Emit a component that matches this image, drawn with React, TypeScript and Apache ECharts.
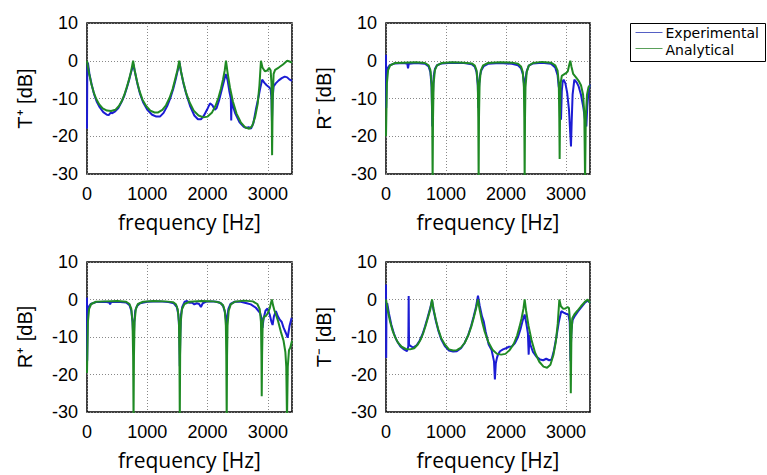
import React, { useEffect, useRef } from "react";
import * as echarts from "echarts";

// ---- data: [frequency Hz, level dB] ----
const tPlusExp = [
  [0, -18], [5, -2], [15, -0.5], [40, -3.5], [80, -6.5], [120, -9], [160, -10.8], [210, -12.3], [270, -13.6], [330, -14.3], [360, -14.4], [390, -13.8], [420, -13.9], [460, -13.5], [520, -12.5], [570, -11], [620, -9.2], [660, -7.2], [700, -5], [740, -2.5], [770, -1],
  [795, -3], [835, -6], [880, -8.8], [930, -11], [1000, -13], [1080, -14.3], [1150, -14.8], [1210, -14.8], [1270, -13.8], [1330, -12], [1380, -10], [1430, -7.5], [1470, -5], [1505, -2.5], [1535, -0.5],
  [1560, -3], [1600, -6], [1650, -9], [1710, -12], [1780, -14.5], [1840, -15.5], [1890, -15.5], [1940, -14.5], [1990, -13], [2040, -11.3], [2080, -11.8], [2120, -13], [2150, -12.5], [2190, -10.5], [2230, -8], [2270, -5.5], [2300, -3.5],
  [2330, -5], [2360, -8], [2385, -10], [2392, -15.8], [2398, -10], [2410, -11.5], [2460, -14], [2530, -16.3], [2600, -17.5], [2640, -17.8], [2680, -17.6], [2720, -18], [2760, -16.5], [2800, -13], [2840, -10], [2870, -7.5], [2905, -5],
  [2940, -5.8], [2980, -6.5], [3020, -7], [3045, -7.5], [3060, -10], [3068, -16], [3078, -10], [3095, -6.8], [3130, -6], [3180, -5.2], [3230, -4.6], [3280, -4.2], [3320, -4.4], [3360, -5], [3400, -5.3],
];
const tPlusAna = [
  [0, 0], [30, -3], [70, -6], [110, -8.3], [150, -10], [200, -11.5], [260, -12.6], [330, -13.2], [400, -13.3], [470, -13], [530, -12], [580, -10.6], [620, -9], [660, -7], [700, -4.8], [735, -2.5], [765, 0],
  [790, -2.5], [830, -5.5], [870, -8], [920, -10.3], [980, -12], [1050, -13.2], [1120, -13.7], [1180, -13.7], [1250, -13], [1310, -11.8], [1370, -9.8], [1420, -7.5], [1460, -5], [1500, -2.5], [1530, 0],
  [1555, -2.5], [1595, -5.5], [1640, -8.3], [1700, -11], [1770, -13.2], [1850, -14.5], [1930, -15], [2000, -14.8], [2070, -13.8], [2130, -12], [2180, -9.8], [2220, -7.5], [2255, -5], [2285, -2.5], [2305, 0],
  [2330, -3], [2370, -7], [2420, -10.8], [2480, -14], [2550, -16.3], [2620, -17.6], [2690, -18], [2740, -17.3], [2790, -14.8], [2830, -11.5], [2860, -6.5], [2885, 0],
  [2910, -1.8], [2950, -2.8], [2990, -2.6], [3020, -1.9], [3045, -2.5], [3060, -6], [3070, -25], [3080, -10], [3095, -3.5], [3120, -2.4], [3180, -1.8], [3250, -1], [3320, 0], [3360, -0.2], [3400, -0.5],
];
const rMinusExp = [
  [0, 1.6], [3, -12.5], [10, -4], [25, -2], [60, -1.2], [150, -0.7], [300, -0.6], [355, -0.8], [367, -2], [380, -0.8], [500, -0.6], [650, -0.8], [710, -1.5], [740, -3], [760, -7], [772, -17.4], [782, -9], [795, -4], [815, -2.2], [850, -1.2], [930, -0.7],
  [1100, -0.5], [1300, -0.6], [1430, -0.9], [1480, -1.6], [1510, -3], [1530, -6.5], [1540, -12.5], [1550, -7], [1565, -4], [1590, -2.5], [1630, -1.4], [1700, -0.8], [1900, -0.6], [2100, -0.8], [2200, -1.2], [2250, -2], [2280, -3.5], [2300, -6], [2311, -7.2], [2322, -5], [2345, -2.8], [2380, -1.3], [2450, -0.7],
  [2600, -0.5], [2750, -0.8], [2820, -1.8], [2860, -3.8], [2878, -6.8], [2905, -9], [2917, -15.6], [2930, -8], [2945, -5.5], [2961, -5], [2990, -6], [3020, -8.5], [3050, -13], [3070, -19], [3083, -22.7], [3095, -16], [3110, -9], [3139, -5], [3180, -5.8], [3211, -6.8], [3250, -9], [3290, -12.5], [3320, -16], [3339, -17.4], [3355, -12], [3375, -8], [3400, -6.3],
];
const rMinusAna = [
  [0, -20], [15, -6], [35, -2.5], [70, -1.2], [150, -0.6], [300, -0.5], [500, -0.4], [650, -0.6], [710, -1.2], [740, -2.5], [760, -6], [770, -15], [777, -32], [784, -15], [794, -6], [815, -2.5], [850, -1.2], [930, -0.6],
  [1100, -0.4], [1300, -0.5], [1430, -0.7], [1480, -1.3], [1510, -2.6], [1530, -6], [1538, -15], [1544, -32], [1550, -15], [1560, -6], [1580, -2.6], [1620, -1.2], [1700, -0.6], [1900, -0.4], [2100, -0.5], [2200, -0.8], [2250, -1.5], [2280, -3], [2298, -7], [2305, -15], [2311, -32], [2317, -15], [2325, -7], [2345, -3], [2380, -1.3], [2450, -0.6],
  [2600, -0.3], [2750, -0.5], [2820, -1.2], [2860, -2.6], [2880, -6], [2888, -15], [2894, -26], [2900, -15], [2910, -6], [2930, -4], [2960, -3.7], [3000, -3.3], [3030, -2.8], [3055, -1], [3072, 0], [3090, -1.5], [3120, -3.5], [3170, -4.5], [3210, -5.3], [3250, -6.5], [3285, -9], [3305, -14], [3318, -32], [3330, -15], [3350, -9], [3375, -7], [3400, -6.5],
];
const rPlusExp = [
  [0, 0.5], [3, -16.3], [10, -4], [25, -2], [60, -1.2], [150, -0.7], [300, -0.6], [370, -0.8], [383, -1.3], [400, -0.7], [500, -0.6], [650, -0.8], [705, -1.5], [735, -3], [755, -6], [765, -9], [775, -10.7], [785, -6], [800, -3], [830, -1.7], [880, -1],
  [1000, -0.6], [1200, -0.5], [1350, -0.7], [1440, -1], [1490, -2], [1515, -4], [1530, -8], [1539, -17.8], [1548, -9], [1560, -4], [1580, -2], [1620, -0.6], [1660, -0.4], [1700, -0.9], [1740, -0.8], [1780, -1.3], [1820, -1], [1860, -1.2], [1889, -2], [1920, -1], [1970, -0.6],
  [2050, -0.5], [2150, -0.6], [2220, -1], [2260, -1.8], [2290, -3.5], [2310, -6], [2317, -8.4], [2325, -5], [2345, -2.5], [2380, -1.2], [2450, -0.6], [2550, -0.6], [2650, -1], [2717, -1.3], [2800, -2.2], [2872, -3.6], [2895, -5], [2911, -7.6], [2930, -5], [2960, -3], [2994, -2.4],
  [3030, -4], [3060, -6], [3078, -6.8], [3100, -4.5], [3133, -3.1], [3165, -4.5], [3194, -5.3], [3230, -6], [3260, -7.5], [3300, -9], [3328, -10.2], [3360, -7], [3394, -4.9], [3400, -5],
];
const rPlusAna = [
  [0, -19.6], [15, -6], [35, -2.5], [70, -1.2], [150, -0.6], [300, -0.5], [500, -0.4], [650, -0.6], [705, -1.2], [735, -2.5], [755, -6], [765, -15], [772, -32], [779, -15], [789, -6], [810, -2.5], [845, -1.2], [930, -0.6],
  [1100, -0.4], [1300, -0.5], [1425, -0.7], [1475, -1.3], [1505, -2.6], [1525, -6], [1533, -15], [1539, -32], [1545, -15], [1555, -6], [1575, -2.6], [1615, -1.2], [1700, -0.6], [1900, -0.4], [2100, -0.5], [2200, -0.8], [2255, -1.5], [2285, -3], [2303, -7], [2310, -15], [2317, -32], [2323, -15], [2331, -7], [2350, -3], [2385, -1.3], [2450, -0.6],
  [2600, -0.3], [2750, -0.5], [2825, -1.2], [2865, -2.6], [2885, -6], [2893, -15], [2898, -25.8], [2904, -15], [2914, -6], [2935, -4.6], [2967, -4.4], [3000, -3.6], [3030, -2.4], [3050, -1], [3067, 0], [3085, -1.5], [3110, -3], [3133, -4], [3170, -5.8], [3217, -8.7], [3260, -11], [3290, -14], [3305, -18], [3317, -32], [3330, -18], [3350, -13.5], [3372, -12.8], [3400, -11],
];
const tMinusExp = [
  [0, 4], [3, -15.6], [8, -2], [20, -1], [50, -3.8], [90, -6.8], [130, -9], [180, -11], [240, -12.5], [300, -13.3], [350, -13.8], [372, -12.5], [378, 0.9], [384, -12], [400, -12.3], [450, -12.8], [510, -12.2], [560, -11], [610, -9.2], [650, -7.2], [690, -5], [730, -2.7], [767, -0.3],
  [792, -2.8], [832, -5.8], [872, -8.3], [920, -10.6], [980, -12.4], [1050, -13.6], [1120, -13.9], [1180, -13.8], [1250, -13], [1310, -11.6], [1370, -9.5], [1420, -7], [1460, -4.6], [1500, -2], [1533, 1],
  [1560, -1.5], [1600, -4.5], [1628, -5.8], [1660, -8.5], [1711, -12], [1760, -13.5], [1800, -16.5], [1815, -21.3], [1830, -17], [1850, -15.5], [1867, -14.7], [1900, -13.8], [1950, -13.3], [2000, -13], [2050, -12.6], [2100, -12.5], [2150, -11.6], [2200, -10], [2240, -8], [2280, -5.5], [2311, -4],
  [2340, -6.5], [2365, -9], [2378, -14.7], [2390, -9.5], [2405, -12], [2450, -14], [2510, -15.3], [2570, -16], [2620, -16.2], [2670, -15.8], [2720, -16.2], [2760, -16], [2800, -13.5], [2840, -10], [2880, -6], [2922, -3.1], [2960, -3.5], [3000, -3.8], [3040, -4], [3062, -6], [3075, -16.4], [3090, -8], [3110, -5.5], [3139, -4.6], [3200, -3.2], [3260, -2], [3320, -0.8], [3361, -0.3], [3400, -0.9],
];
const tMinusAna = [
  [0, 0], [30, -3], [70, -6], [110, -8.3], [150, -10], [200, -11.5], [260, -12.6], [330, -13.2], [400, -13.3], [470, -13], [530, -12], [580, -10.6], [620, -9], [660, -7], [700, -4.8], [740, -2.5], [767, 0],
  [792, -2.5], [832, -5.5], [872, -8], [920, -10.3], [980, -12], [1050, -13.3], [1120, -13.6], [1180, -13.5], [1250, -12.8], [1310, -11.6], [1370, -9.6], [1420, -7.3], [1460, -5], [1500, -2.5], [1533, 0],
  [1558, -2.5], [1600, -5.8], [1645, -8.6], [1705, -11.3], [1775, -13.4], [1850, -14.5], [1920, -14.7], [1990, -14.5], [2060, -13.5], [2130, -11.8], [2185, -9.6], [2225, -7.3], [2260, -5], [2290, -2.5], [2311, 0],
  [2335, -3], [2375, -7], [2425, -10.8], [2485, -14.2], [2555, -16.6], [2625, -17.9], [2685, -18.2], [2740, -17.4], [2790, -14.8], [2830, -11.3], [2862, -6.5], [2889, 0],
  [2915, -1.8], [2955, -2.5], [2990, -2.4], [3025, -2], [3050, -2.3], [3068, -6], [3080, -25], [3090, -10], [3105, -5], [3139, -4], [3190, -3], [3250, -1.8], [3310, -0.7], [3361, 0], [3400, -0.9],
];

const panelNames = ["T\u207A [dB]", "R\u207B [dB]", "R\u207A [dB]", "T\u207B [dB]"];
const xName = "frequency [Hz]";
const seriesNames = ["Experimental", "Analytical"];
const panelData = [
  [tPlusExp, tPlusAna],
  [rMinusExp, rMinusAna],
  [rPlusExp, rPlusAna],
  [tMinusExp, tMinusAna],
];

const BLUE = "#1c1cd4";
const GREEN = "#1f8a24";
const LEG_BLUE = "#5560c4";
const LEG_GREEN = "#5aa05a";

export default function App() {
  const ref = useRef<HTMLDivElement>(null);
  useEffect(() => {
    if (!ref.current) return;
    const chart = echarts.init(ref.current, null, { renderer: "svg" });
    const grids = [
      { left: 87, top: 23, width: 205, height: 151 },
      { left: 386, top: 23, width: 204, height: 151 },
      { left: 87, top: 262, width: 205, height: 150 },
      { left: 386, top: 262, width: 204, height: 150 },
    ];
    const tickFont = { fontFamily: "Liberation Sans, Arial, sans-serif", fontSize: 18, color: "#000" };
    const legText = { fontFamily: "DejaVu Sans", fontSize: 14, fill: "#000", verticalAlign: "middle" };
    const option: any = {
      animation: false,
      backgroundColor: "#fff",
      grid: grids.map((g) => ({ ...g, show: true, borderColor: "#000", borderWidth: 1.5, backgroundColor: "transparent" })),
      xAxis: grids.map((_, i) => ({
        type: "value",
        gridIndex: i,
        min: 0,
        max: 3400,
        interval: 1000,
        name: xName,
        nameLocation: "middle",
        nameGap: 37,
        nameTextStyle: { fontFamily: "Open Sans", fontSize: 21, color: "#000" },
        axisLine: { show: false },
        axisTick: { show: false },
        axisLabel: { ...tickFont, margin: 11, showMaxLabel: false, formatter: (v: number) => String(v) },
        splitLine: { show: true, lineStyle: { color: "#888", type: [1, 2], width: 1 } },
      })),
      yAxis: grids.map((_, i) => ({
        type: "value",
        gridIndex: i,
        min: -30,
        max: 10,
        interval: 10,
        name: panelNames[i],
        nameLocation: "middle",
        nameGap: 52,
        nameRotate: 90,
        nameTextStyle: { fontFamily: "Liberation Sans, Arial, sans-serif", fontSize: 20, color: "#000" },
        axisLine: { show: false },
        axisTick: { show: false },
        axisLabel: { ...tickFont, margin: 9, formatter: (v: number) => String(v) },
        splitLine: { show: true, lineStyle: { color: "#888", type: [1, 2], width: 1 } },
      })),
      graphic: [
        {
          type: "group",
          left: 630,
          top: 23,
          children: [
            { type: "rect", shape: { x: 0, y: 0, width: 135, height: 38 }, style: { fill: "#fff", stroke: "#000", lineWidth: 1 } },
            { type: "line", shape: { x1: 5, y1: 9, x2: 32, y2: 9 }, style: { stroke: LEG_BLUE, lineWidth: 1 } },
            { type: "line", shape: { x1: 5, y1: 25, x2: 32, y2: 25 }, style: { stroke: LEG_GREEN, lineWidth: 1 } },
            { type: "text", x: 35, y: 9, style: { ...legText, text: seriesNames[0] } },
            { type: "text", x: 35, y: 26.5, style: { ...legText, text: seriesNames[1] } },
          ],
        },
      ],
      series: panelData.flatMap((pair, i) =>
        pair.map((d, j) => ({
          type: "line",
          name: seriesNames[j],
          xAxisIndex: i,
          yAxisIndex: i,
          data: d,
          symbol: "none",
          clip: true,
          lineStyle: { color: j === 0 ? BLUE : GREEN, width: 2 },
          itemStyle: { color: j === 0 ? BLUE : GREEN },
          z: 2 + j,
        }))
      ),
    };
    chart.setOption(option);
    return () => chart.dispose();
  }, []);
  return <div ref={ref} style={{ position: "fixed", left: 0, top: 0, width: 767, height: 475, background: "#fff" }} />;
}
